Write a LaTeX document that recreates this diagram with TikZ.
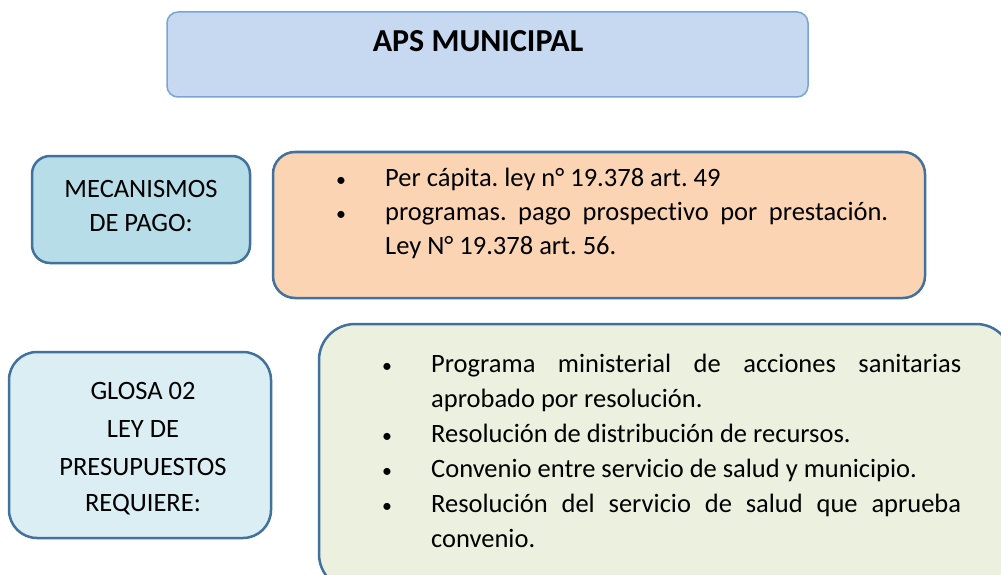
\documentclass[tikz,border=0pt]{standalone}
\usepackage{fontspec}
\setmainfont{Carlito}[Ligatures=NoCommon]
\frenchspacing
\definecolor{topfill}{HTML}{C6D9F1}
\definecolor{topline}{HTML}{7AA3D6}
\definecolor{darkline}{HTML}{41719C}
\definecolor{mecfill}{HTML}{B7DDE8}
\definecolor{orfill}{HTML}{FBD4B4}
\definecolor{glofill}{HTML}{DAEEF3}
\definecolor{grfill}{HTML}{EBF1DE}
\tikzset{
  boxstyle/.style={draw=darkline, line width=2.5pt},
  txt/.style={inner sep=0pt, font=\fontsize{26.5}{32}\selectfont},
  bl/.style={txt, anchor=base west},
  cl/.style={txt, anchor=base},
  bul/.style={txt, anchor=base}
}
\newcommand{\smbul}{\scalebox{0.75}{\textbullet}}
\begin{document}
\begin{tikzpicture}[x=1pt,y=-1pt]
\clip (0,0) rectangle (1001,575);
\fill[white] (0,0) rectangle (1001,575);
% boxes
\draw[fill=topfill, draw=topline, line width=1.5pt, rounded corners=11pt] (167,12) rectangle (808,97);
\draw[boxstyle, fill=mecfill, rounded corners=18pt] (32,156) rectangle (250,263);
\draw[boxstyle, fill=orfill, rounded corners=22pt] (273,152) rectangle (925,298);
\draw[boxstyle, fill=glofill, rounded corners=28pt] (9,352) rectangle (271,538);
\draw[boxstyle, fill=grfill, rounded corners=36pt] (319,324) rectangle (1012,590);
% title
\node[inner sep=0pt, anchor=base, font=\fontsize{32}{38}\selectfont\bfseries] (title) at (478,52) {APS MUNICIPAL};
% mecanismos
\node[cl] (m1) at (141,197) {MECANISMOS};
\node[cl] (m2) at (141,231) {DE PAGO:};
% orange box
\node[bul] (ob1) at (341,186) {\smbul};
\node[bl] (o1) at (385,186) {Per cápita. ley n° 19.378 art. 49};
\node[bul] (ob2) at (341,220) {\smbul};
\node[bl] (o2) at (385,220) {\makebox[503pt][s]{programas. pago prospectivo por prestación.}};
\node[bl] (o3) at (385,254) {Ley N° 19.378 art. 56.};
% glosa
\node[cl] (g1) at (143,399) {GLOSA 02};
\node[cl] (g2) at (143,437) {LEY DE};
\node[cl] (g3) at (143,475) {PRESUPUESTOS};
\node[cl] (g4) at (143,511) {REQUIERE:};
% green box
\node[bul] (gb1) at (387,372) {\smbul};
\node[bl] (t1) at (431,372) {\makebox[530pt][s]{Programa ministerial de acciones sanitarias}};
\node[bl] (t2) at (431,407) {aprobado por resolución.};
\node[bul] (gb2) at (387,442) {\smbul};
\node[bl] (t3) at (431,442) {Resolución de distribución de recursos.};
\node[bul] (gb3) at (387,477) {\smbul};
\node[bl] (t4) at (431,477) {Convenio entre servicio de salud y municipio.};
\node[bul] (gb4) at (387,512) {\smbul};
\node[bl] (t5) at (431,512) {\makebox[530pt][s]{Resolución del servicio de salud que aprueba}};
\node[bl] (t6) at (431,547) {convenio.};
\end{tikzpicture}
\end{document}
